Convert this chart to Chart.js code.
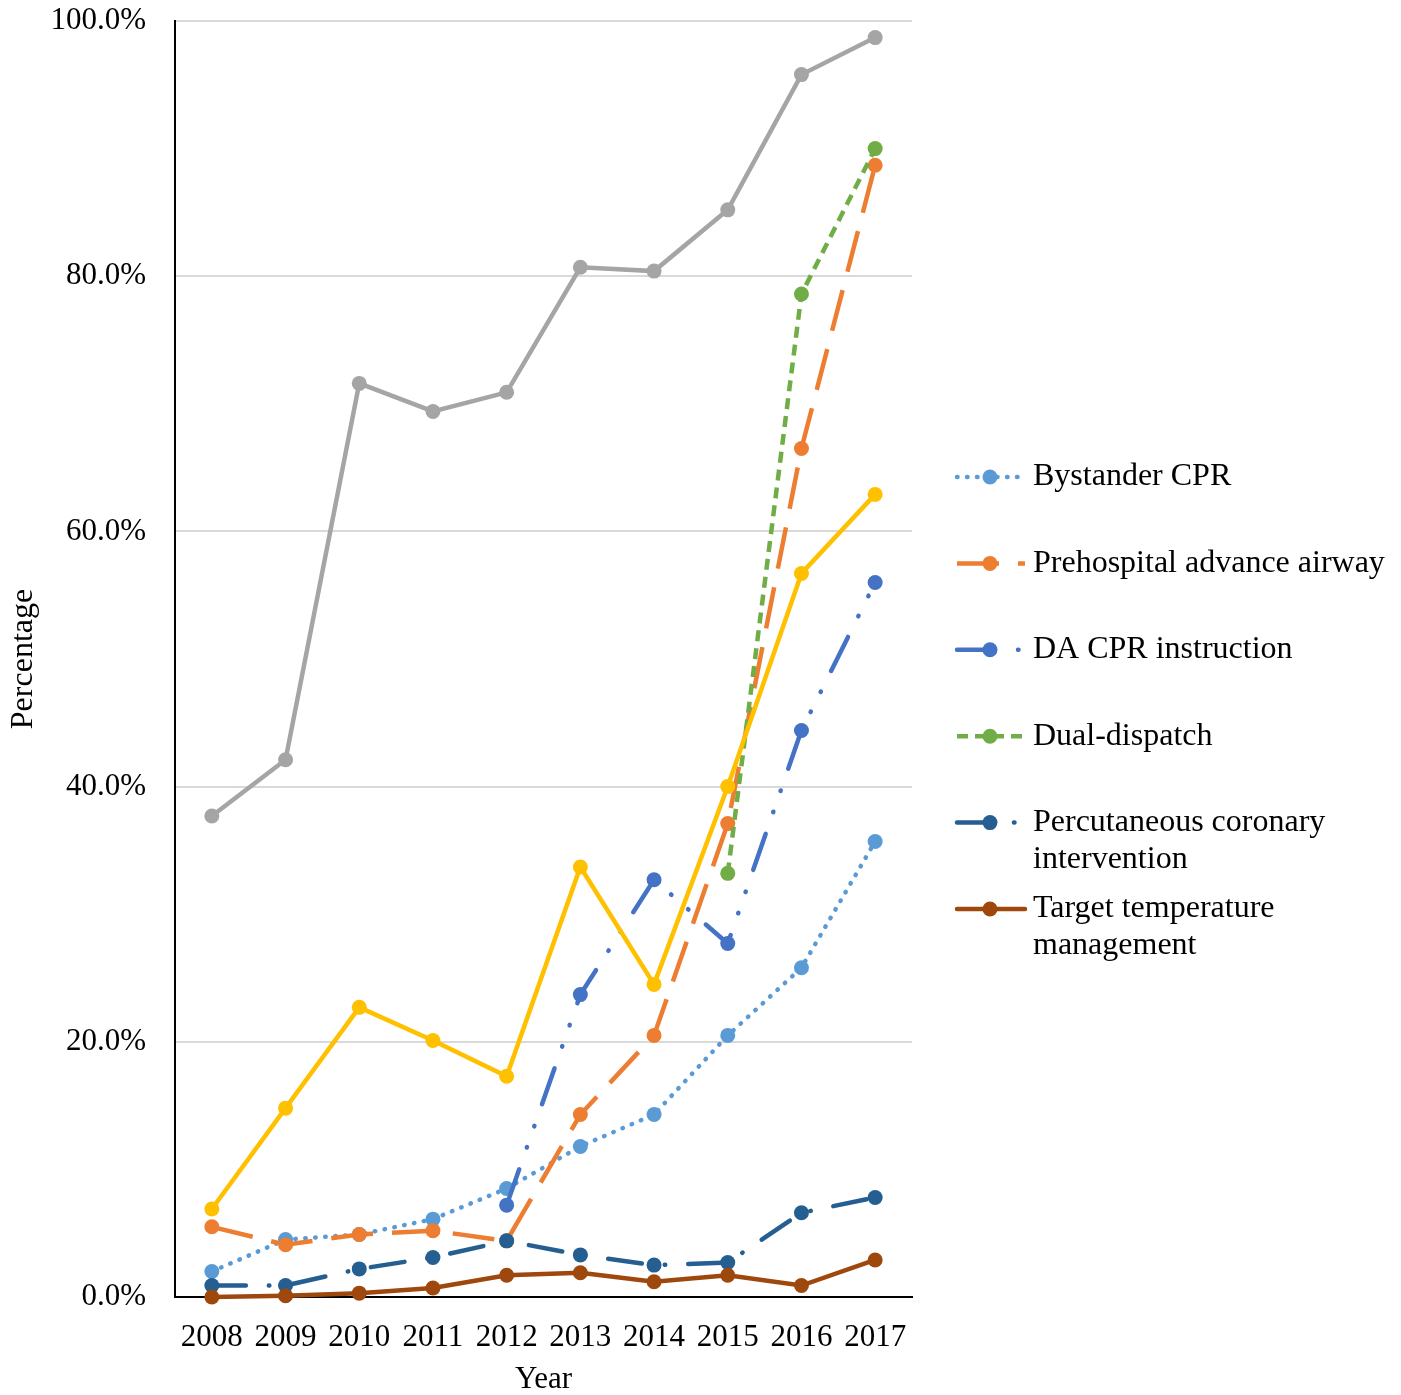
<!DOCTYPE html>
<html>
<head>
<meta charset="utf-8">
<script src="https://cdn.jsdelivr.net/npm/chart.js@4.4.0/dist/chart.umd.min.js"></script>
<style>
    body { margin: 0; background: #FFFFFF; }
</style>
</head>
<body>
<canvas id="chartTrends" width="1401" height="1395"></canvas>
<script>
const years = ["2008", "2009", "2010", "2011", "2012", "2013", "2014", "2015", "2016", "2017"];

// series without legend entry
const grayValues = [37.7, 42.1, 71.6, 69.4, 70.9, 80.7, 80.4, 85.2, 95.8, 98.7];
const yellowValues = [6.9, 14.8, 22.7, 20.1, 17.3, 33.7, 24.5, 40.0, 56.7, 62.9];

const bystanderCpr = [2.0, 4.5, 4.9, 6.1, 8.5, 11.8, 14.3, 20.5, 25.8, 35.7];
const advanceAirway = [5.5, 4.1, 4.9, 5.2, 4.4, 14.3, 20.5, 37.1, 66.5, 88.7];
const daCprInstruction = [null, null, null, null, 7.2, 23.7, 32.7, 27.7, 44.4, 56.0];
const dualDispatch = [null, null, null, null, null, null, null, 33.2, 78.6, 90.0];
const percutaneousCoronary = [0.9, 0.9, 2.2, 3.1, 4.4, 3.3, 2.5, 2.7, 6.6, 7.8];
const targetTemperature = [0.0, 0.1, 0.3, 0.7, 1.7, 1.9, 1.2, 1.7, 0.9, 2.9];

const yTicks = [0, 20, 40, 60, 80, 100];

Chart.defaults.font.family = "'Liberation Serif', 'Times New Roman', serif";
Chart.defaults.color = "#000000";

function serie(label, data, color, dash, cap, order) {
    return {
        label: label,
        data: data,
        borderColor: color,
        backgroundColor: color,
        pointBackgroundColor: color,
        pointBorderColor: color,
        borderWidth: 4.5,
        borderDash: dash,
        borderCapStyle: cap,
        pointRadius: 7.5,
        pointBorderWidth: 0,
        tension: 0,
        fill: false,
        clip: false,
        order: order
    };
}

const datasets = [
    serie(["Bystander CPR"], bystanderCpr, "#5B9BD5", [0.5, 9.5], "round", 7),
    serie(["Prehospital advance airway"], advanceAirway, "#ED7D31", [42, 19], "butt", 6),
    serie(["DA CPR instruction"], daCprInstruction, "#4472C4", [38, 23, 0.5, 22, 0.5, 23], "round", 5),
    serie(["Dual-dispatch"], dualDispatch, "#70AD47", [11, 7], "butt", 4),
    serie(["Percutaneous coronary", "intervention"], percutaneousCoronary, "#255E91", [34, 23, 0.5, 23], "round", 3),
    serie(["Target temperature", "management"], targetTemperature, "#9E480E", [], "round", 2),
    serie(null, grayValues, "#A5A5A5", [], "round", 1),
    serie(null, yellowValues, "#FFC000", [], "round", 0)
];

// legend drawn at the right, one row per series
const sideLegend = {
    id: "sideLegend",
    afterDraw(chart) {
        const ctx = chart.ctx;
        let y = 477;
        ctx.save();
        chart.data.datasets.forEach((ds) => {
            if (!ds.label) return;
            ctx.strokeStyle = ds.borderColor;
            ctx.lineWidth = ds.borderWidth;
            ctx.lineCap = ds.borderCapStyle;
            ctx.setLineDash(ds.borderDash);
            ctx.beginPath();
            ctx.moveTo(957, y);
            ctx.lineTo(1025, y);
            ctx.stroke();
            ctx.setLineDash([]);
            ctx.fillStyle = ds.borderColor;
            ctx.beginPath();
            ctx.arc(990, y, 7.5, 0, Math.PI * 2);
            ctx.fill();

            ctx.fillStyle = "#000000";
            ctx.font = "32px 'Liberation Serif', 'Times New Roman', serif";
            ctx.textBaseline = "middle";
            ctx.textAlign = "left";
            ds.label.forEach((linha, k) => {
                ctx.fillText(linha, 1033, y + k * 37);
            });
            y += 86.4;
        });
        ctx.restore();
    }
};

new Chart(document.getElementById("chartTrends"), {
    type: "line",
    data: {
        labels: years,
        datasets: datasets
    },
    plugins: [sideLegend],
    options: {
        responsive: false,
        animation: false,
        layout: {
            autoPadding: false,
            padding: { top: 21, right: 489, left: 0, bottom: 0 }
        },
        plugins: {
            legend: { display: false },
            tooltip: { enabled: false }
        },
        scales: {
            x: {
                offset: true,
                grid: { display: false, drawTicks: false },
                border: { color: "#000000", width: 2 },
                ticks: {
                    color: "#000000",
                    padding: 22,
                    maxRotation: 0,
                    font: { size: 31 }
                },
                title: {
                    display: true,
                    text: "Year",
                    color: "#000000",
                    font: { size: 31 },
                    padding: { top: 0, bottom: -3 }
                },
                afterFit(scale) {
                    scale.height = 98;
                    scale.paddingLeft = 0;
                    scale.paddingRight = 0;
                }
            },
            y: {
                min: 0,
                max: 100,
                afterBuildTicks(scale) {
                    scale.ticks = yTicks.map((v) => ({ value: v }));
                },
                grid: { color: "#D9D9D9", lineWidth: 2, drawTicks: false },
                border: { color: "#000000", width: 2 },
                ticks: {
                    color: "#000000",
                    padding: 29,
                    font: { size: 31 },
                    callback: (v) => v.toFixed(1) + "%"
                },
                title: {
                    display: true,
                    text: "Percentage",
                    color: "#000000",
                    font: { size: 32 },
                    padding: { top: 4, bottom: 0 }
                },
                afterFit(scale) {
                    scale.width = 175;
                    scale.paddingTop = 0;
                    scale.paddingBottom = 0;
                }
            }
        }
    }
});
</script>
</body>
</html>
